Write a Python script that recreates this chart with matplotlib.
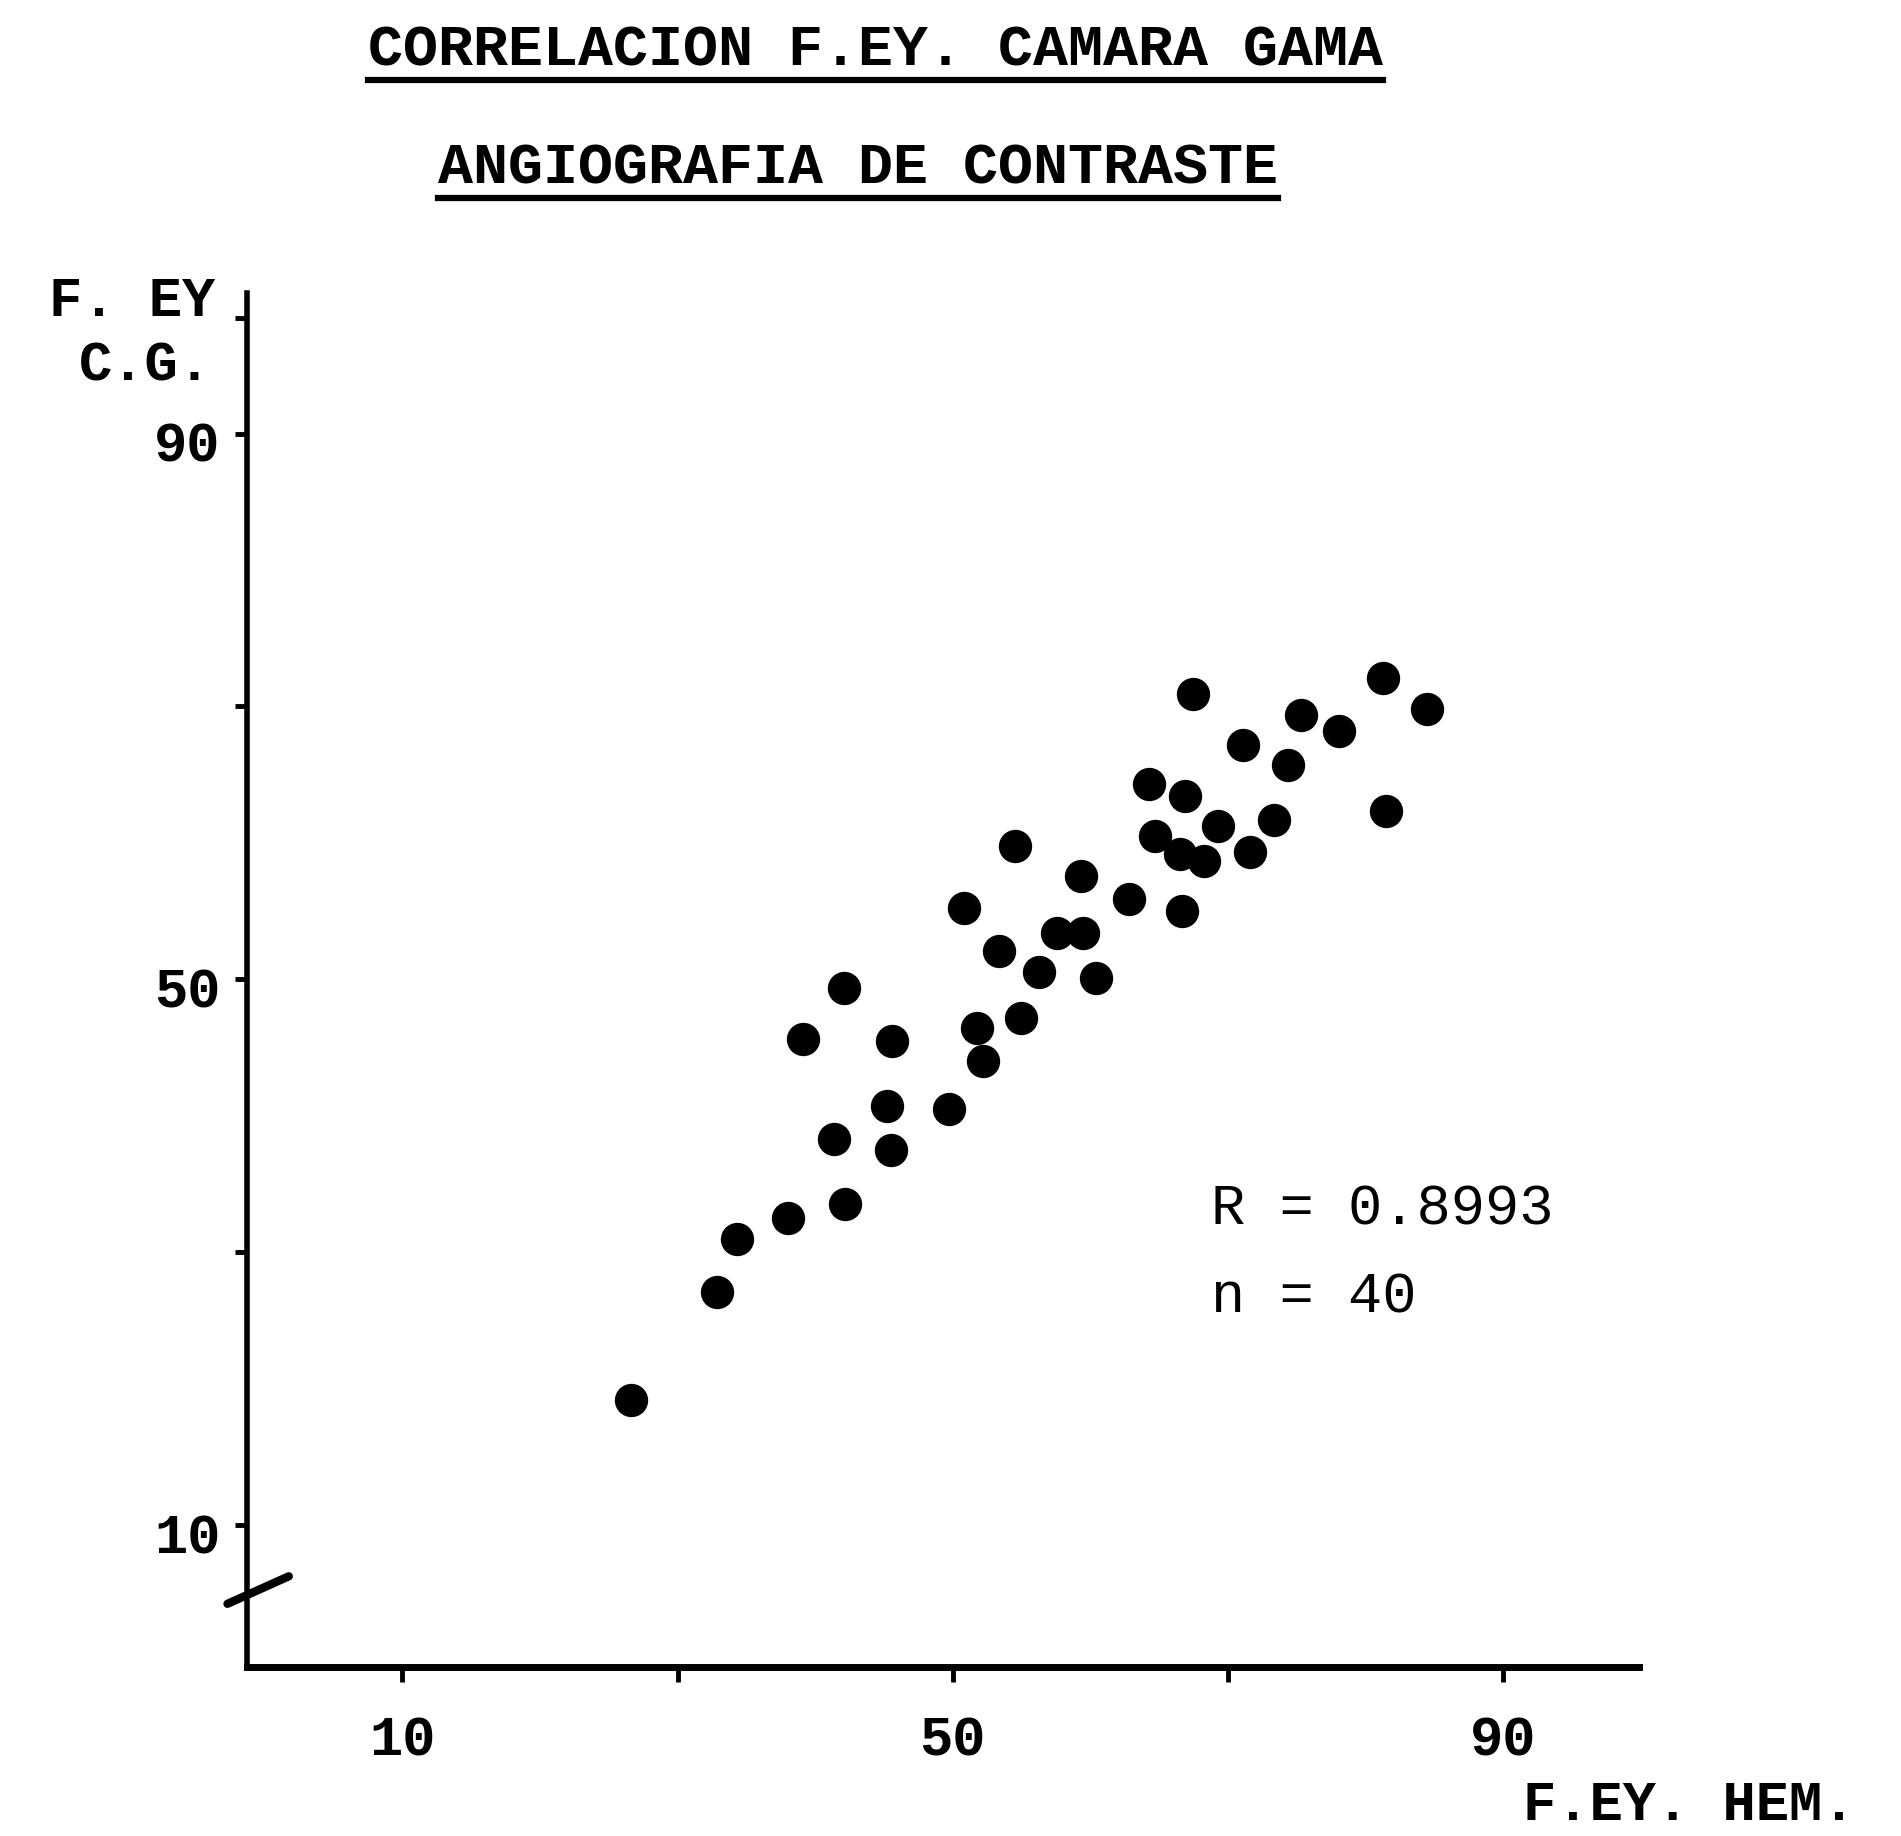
import matplotlib
matplotlib.use("Agg")
import matplotlib.pyplot as plt
from matplotlib.lines import Line2D
from matplotlib.transforms import ScaledTranslation

# values
fey_hem = [26.6, 32.9, 34.3, 38.0, 42.2, 41.4, 45.5, 45.2, 49.7, 39.1,
           42.1, 45.6, 51.8, 52.2, 55.0, 50.8, 53.4, 56.3, 57.6, 59.5,
           60.4, 54.5, 59.3, 62.8, 66.7, 64.3, 64.7, 66.5, 68.3, 66.9,
           69.3, 67.5, 71.6, 73.4, 71.1, 74.4, 75.3, 78.1, 81.3, 81.5,
           84.5]
fey_cg = [19.2, 27.1, 31.0, 32.5, 33.5, 38.3, 37.5, 40.7, 40.5, 45.6,
          49.4, 45.5, 46.4, 44.0, 47.2, 55.2, 52.1, 50.5, 53.4, 53.4,
          50.1, 59.8, 57.6, 55.9, 55.0, 64.3, 60.5, 59.2, 58.7, 63.4,
          61.2, 70.9, 59.3, 61.7, 67.2, 65.7, 69.4, 68.2, 72.1, 62.3,
          69.8]

x_ticks = [10, 30, 50, 70, 90]
x_ticklabels = ["10", "", "50", "", "90"]
y_ticks = [10, 30, 50, 70, 90, 98.5]
y_ticklabels = ["10", "", "50", "", "90", ""]

title1 = "CORRELACION F.EY. CAMARA GAMA"
title2 = "ANGIOGRAFIA DE CONTRASTE"
stats = ["R = 0.8993", "n = 40"]

W, H = 1901, 1836
mono = "Liberation Mono"

fig = plt.figure(figsize=(W / 100, H / 100), dpi=100)
fig.patch.set_facecolor("white")
ax = fig.add_axes([247 / W, 169 / H, 1392 / W, 1374 / H])

ax.plot(fey_hem, fey_cg, "o", color="black", markersize=24, markeredgewidth=0)

ax.set_xlim(-1.3, 99.9)
ax.set_ylim(-0.4, 100.3)

for s in ["top", "right"]:
    ax.spines[s].set_visible(False)
ax.spines["bottom"].set_linewidth(5)
ax.spines["left"].set_linewidth(4)

ax.set_xticks(x_ticks)
ax.set_xticklabels(x_ticklabels)
ax.set_yticks(y_ticks)
ax.set_yticklabels(y_ticklabels)
ax.tick_params(axis="x", direction="out", length=11, width=3.5, pad=24)
ax.tick_params(axis="y", direction="out", length=9, width=3.5, pad=10)
for lab in ax.get_xticklabels() + ax.get_yticklabels():
    lab.set_fontfamily(mono)
    lab.set_fontweight("bold")
    lab.set_fontsize(40)
# typed y numbers sit a little below their ticks
shift = ScaledTranslation(0, -8 / 100, fig.dpi_scale_trans)
for lab in ax.get_yticklabels():
    lab.set_transform(lab.get_transform() + shift)

# axis break on the y axis
ax.add_line(Line2D([-0.014, 0.03], [0.046, 0.066], transform=ax.transAxes,
                   color="black", lw=6, clip_on=False, solid_capstyle="round"))

# R and n
ax.text(68.8, 33.1, stats[0], family=mono, fontsize=41, va="center", ha="left")
ax.text(68.8, 26.7, stats[1], family=mono, fontsize=41, va="center", ha="left")

# y axis caption
fig.text(215 / W, 1 - 302 / H, "F. EY", family=mono, weight="bold",
         fontsize=40, ha="right", va="center")
fig.text(212 / W, 1 - 366 / H, "C.G.", family=mono, weight="bold",
         fontsize=40, ha="right", va="center")

# x axis caption
fig.text(1855 / W, 1 - 1806 / H, "F.EY. HEM.", family=mono, weight="bold",
         fontsize=40, ha="right", va="center")

# underlined titles
t1 = fig.text(875 / W, 1 - 50 / H, title1, family=mono, weight="bold",
              fontsize=42, ha="center", va="center")
t2 = fig.text(858 / W, 1 - 168 / H, title2, family=mono, weight="bold",
              fontsize=42, ha="center", va="center")

fig.canvas.draw()
r = fig.canvas.get_renderer()
for t, uy in [(t1, 80), (t2, 198)]:
    bb = t.get_window_extent(r)
    fig.add_artist(Line2D([bb.x0 / W, bb.x1 / W], [1 - uy / H, 1 - uy / H],
                          transform=fig.transFigure, color="black", lw=4.5))

fig.savefig("out.png", dpi=100, facecolor="white")
